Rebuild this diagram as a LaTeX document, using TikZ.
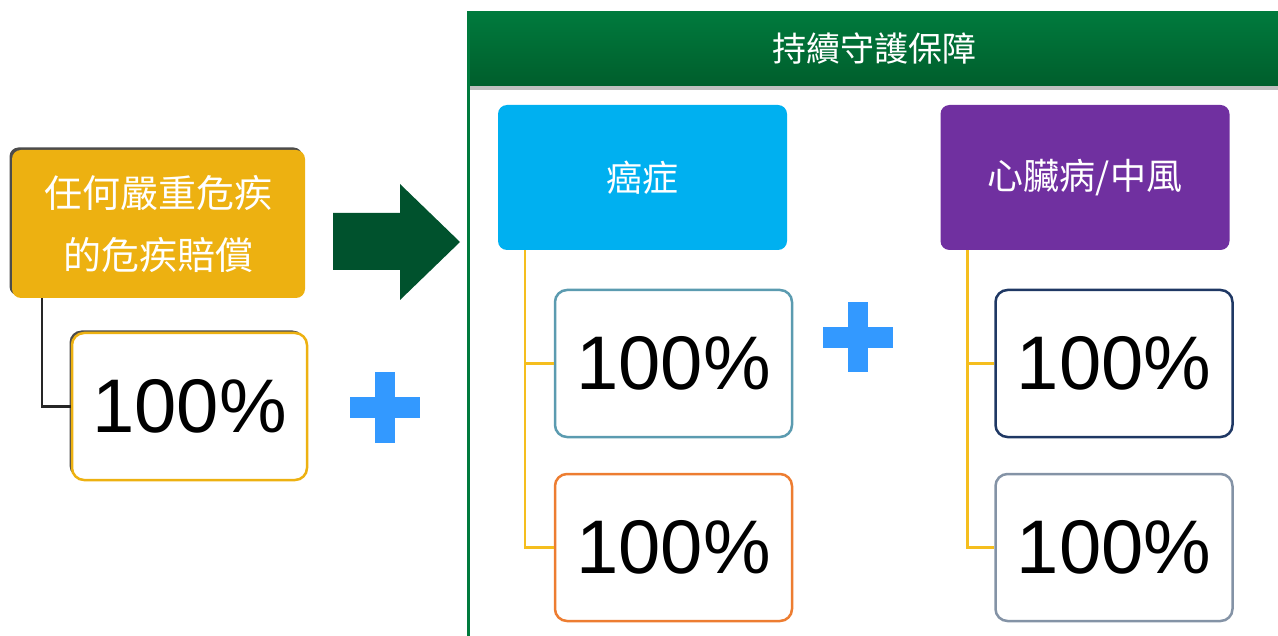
\documentclass[tikz,border=0pt]{standalone}
\usepackage{fontspec}
\setmainfont{Liberation Sans}
\newfontfamily\cjk{Noto Sans CJK TC}
\usetikzlibrary{trees,shadows}
\definecolor{boxgold}{RGB}{237,177,17}
\definecolor{linegold}{RGB}{245,190,30}
\definecolor{cancerblue}{RGB}{0,176,240}
\definecolor{heartpurple}{RGB}{112,48,160}
\definecolor{tealedge}{RGB}{91,155,176}
\definecolor{orangeedge}{RGB}{237,125,49}
\definecolor{navyedge}{RGB}{31,56,100}
\definecolor{grayedge}{RGB}{132,147,166}
\definecolor{arrowgreen}{RGB}{0,82,45}
\definecolor{hdtop}{RGB}{0,122,61}
\definecolor{hdbot}{RGB}{0,94,44}
\definecolor{plusblue}{RGB}{51,153,255}

\begin{document}
\begin{tikzpicture}[x=1pt,y=-1pt,
  catbox/.style={rounded corners=9pt,minimum width=289pt,minimum height=145pt,
    text=white,font=\cjk\fontsize{36}{44}\selectfont},
  pctbox/.style={draw,line width=2.5pt,fill=white,rounded corners=12pt,
    minimum width=237pt,minimum height=147pt,text=black,font=\fontsize{76}{80}\selectfont},
  stem/.style={edge from parent path={(\tikzparentnode.south west) ++(#1,0) |- (\tikzchildnode.west)}},
  edge from parent/.style={draw=linegold,line width=2.5pt},
  leftshadow/.style={drop shadow={shadow xshift=-2.5pt,shadow yshift=2.5pt,opacity=0.7,fill=black}}]
  \useasboundingbox (0,0) rectangle (1278,636);

  % left column
  \node[catbox,fill=boxgold,minimum width=293pt,minimum height=148pt,leftshadow,align=center,
    font=\cjk\fontsize{38}{62}\selectfont] (any) at (158.5,224) {任何嚴重危疾\\的危疾賠償}
    [grow via three points={one child at (31,182.5) and two children at (31,182.5) and (31,365)},
     stem=30, edge from parent/.append style={draw=black!85}]
    child {node[pctbox,draw=boxgold,minimum width=235pt,leftshadow] (anypct) {100\%}};

  % arrow and plus signs
  \fill[arrowgreen] (333,213) -- (400,213) -- (400,184) -- (460,242) -- (400,300)
    -- (400,270) -- (333,270) -- cycle;
  \foreach \px/\py in {385/407.5, 858/337.5} {
    \fill[plusblue] (\px-35,\py-10.5) rectangle (\px+35,\py+10.5);
    \fill[plusblue] (\px-10,\py-35) rectangle (\px+10,\py+35);
  }

  % right panel
  \fill[black!25] (470,86) rectangle (1278,90);
  \shade[top color=hdtop,bottom color=hdbot] (467,12) rectangle (1278,86);
  \draw[hdtop,line width=3pt] (468,12) -- (468,636);
  \node[text=white,font=\cjk\fontsize{34}{40}\selectfont] (title) at (874,49) {持續守護保障};

  \node[catbox,fill=cancerblue] (cancer) at (642.5,177.5) {癌症}
    [grow via three points={one child at (31,186) and two children at (31,186) and (31,370)},
     stem=27]
    child {node[pctbox,draw=tealedge] (cancer1) {100\%}}
    child {node[pctbox,draw=orangeedge] (cancer2) {100\%}};

  \node[catbox,fill=heartpurple] (heart) at (1085,177.5) {心臟病/中風}
    [grow via three points={one child at (29,186) and two children at (29,186) and (29,370)},
     stem=27]
    child {node[pctbox,draw=navyedge] (heart1) {100\%}}
    child {node[pctbox,draw=grayedge] (heart2) {100\%}};
\end{tikzpicture}
\end{document}
